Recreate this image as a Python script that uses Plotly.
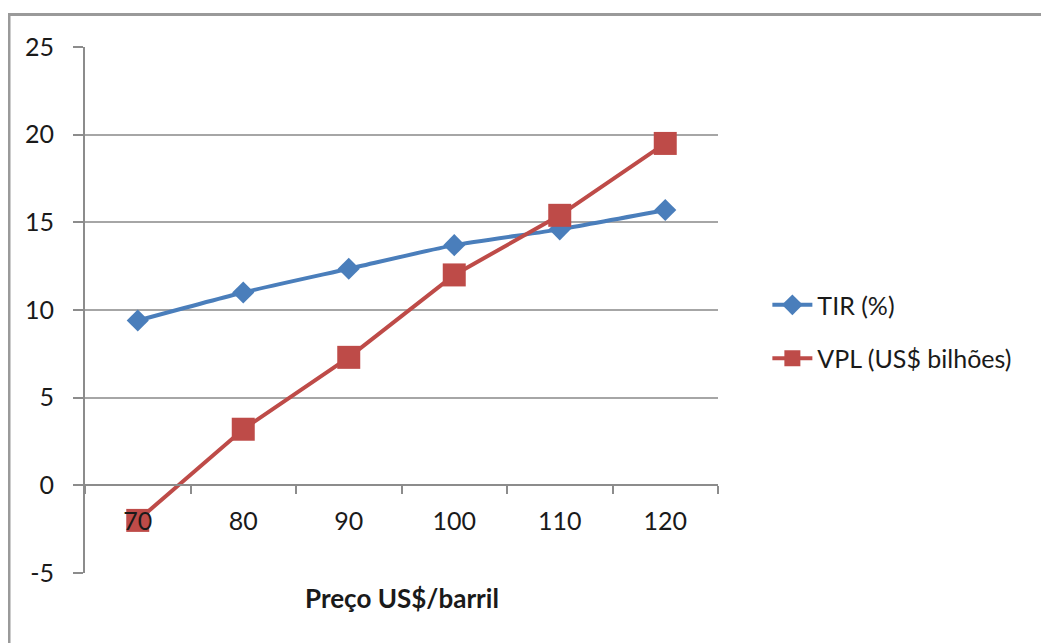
import plotly.graph_objects as go

precos = ["70", "80", "90", "100", "110", "120"]
tir = [9.4, 11.0, 12.35, 13.7, 14.6, 15.7]
vpl = [-2.0, 3.2, 7.3, 12.0, 15.4, 19.5]
y_ticks = [-5, 0, 5, 10, 15, 20, 25]
y_labels = ["-5", "0", "5", "10", "15", "20", "25"]

FONT = "Lato"
AX = "#8c8c8c"
TXT = "#1a1a1a"

fig = go.Figure()
fig.add_trace(go.Scatter(
    x=precos, y=tir, name="TIR (%)", mode="lines+markers", legendgroup="a",
    line=dict(color="#4A7EBB", width=4, shape="spline", smoothing=0.6),
    marker=dict(symbol="diamond", size=17, color="#4A7EBB"),
))
fig.add_trace(go.Scatter(
    x=precos, y=vpl, name="VPL (US$ bilhões)", mode="lines+markers", legendgroup="b",
    line=dict(color="#BE4B48", width=4),
    marker=dict(symbol="square", size=23, color="#BE4B48"),
))

# page body has an 8px margin, so margins are shifted to keep the plot area in place
fig.update_layout(
    width=1049, height=643,
    margin=dict(l=77, r=339, t=39, b=78, autoexpand=False),
    paper_bgcolor="white", plot_bgcolor="white",
    font=dict(family=FONT, size=25, color=TXT),
    showlegend=True,
    legend=dict(x=1.078, y=0.459, xanchor="left", yanchor="middle",
                font=dict(family=FONT, size=25, color=TXT),
                tracegroupgap=18, itemwidth=40),
    xaxis=dict(
        type="category", range=[-0.5, 5.5],
        anchor="free", position=1/6,
        showline=True, linecolor=AX, linewidth=2,
        ticks="outside", ticklen=8, tickcolor=AX, tickwidth=2,
        tickson="boundaries", showgrid=False,
        tickfont=dict(family=FONT, size=25, color=TXT),
        ticklabelstandoff=14,
        zeroline=False,
    ),
    yaxis=dict(
        range=[-5, 25], tickvals=y_ticks, ticktext=y_labels,
        showline=True, linecolor=AX, linewidth=2,
        ticks="outside", ticklen=10, tickcolor=AX, tickwidth=2,
        showgrid=True, gridcolor="#a6a6a6", gridwidth=2,
        zeroline=False,
        tickfont=dict(family=FONT, size=25, color=TXT),
        ticklabelstandoff=14,
    ),
)

fig.add_annotation(
    text="<b>Preço US$/barril</b>", xref="paper", yref="paper",
    x=0.5, y=0, yshift=-25, xanchor="center", yanchor="middle",
    showarrow=False, font=dict(family=FONT, size=26, color=TXT),
)

# outer chart border (left and top edges visible)
fig.add_shape(type="rect", xref="paper", yref="paper",
              x0=-76/633, x1=1.6, y0=-0.3, y1=(573 - 14.5) / 526,
              line=dict(color="#9a9a9a", width=3), layer="below")

fig.write_html("out.html")
